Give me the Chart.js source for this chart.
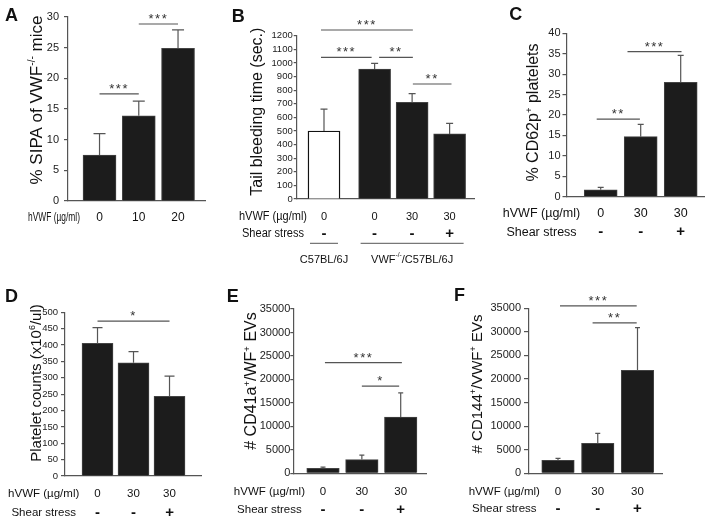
<!DOCTYPE html>
<html>
<head>
<meta charset="utf-8">
<script src="https://cdn.jsdelivr.net/npm/chart.js@4.4.0/dist/chart.umd.min.js"></script>
<style>
  body { margin: 0; background: #fff; width: 705px; height: 519px; position: relative; overflow: hidden; }
  canvas { position: absolute; left: 0; top: 0; }
</style>
</head>
<body>
<canvas id="panelA" width="705" height="519"></canvas>
<canvas id="panelB" width="705" height="519"></canvas>
<canvas id="panelC" width="705" height="519"></canvas>
<canvas id="panelD" width="705" height="519"></canvas>
<canvas id="panelE" width="705" height="519"></canvas>
<canvas id="panelF" width="705" height="519"></canvas>
<script>
// A - SIPA
const sipaDose = ['0', '10', '20'];
const sipaMean = [7.5, 13.9, 24.9];
const sipaErr = [3.5, 2.4, 3.0];
const sipaTicks = [0, 5, 10, 15, 20, 25, 30];
const sipaSig = [[0, 1, 17.45, '***'], [1, 2, 28.86, '***']];

// B - tail bleeding
const bleedDose = ['0', '0', '30', '30'];
const bleedShear = ['-', '-', '-', '+'];
const bleedPos = [0, 1.35, 2.35, 3.35];
const bleedMean = [500, 955, 710, 478];
const bleedErr = [160, 42, 64, 78];
const bleedTicks = [0, 100, 200, 300, 400, 500, 600, 700, 800, 900, 1000, 1100, 1200];
const bleedSig = [[-0.08, 1.27, 1041, '***'], [1.47, 2.37, 1041, '**'], [-0.08, 2.37, 1242, '***'], [2.37, 3.4, 845, '**']];
const bleedGroups = [{ label: 'C57BL/6J', from: 0, to: 0 }, { label: 'VWF^{-/-}/C57BL/6J', from: 1, to: 3 }];

// C-F share the same treatment rows
const treatDose = ['0', '30', '30'];
const treatShear = ['-', '-', '+'];

// C - CD62p
const cd62Mean = [1.7, 14.7, 28.0];
const cd62Err = [0.6, 3.0, 6.6];
const cd62Ticks = [0, 5, 10, 15, 20, 25, 30, 35, 40];
const cd62Sig = [[-0.1, 0.98, 19.0, '**'], [0.67, 2.02, 35.5, '***']];

// D - platelet counts
const pltMean = [405, 346, 243];
const pltErr = [48, 34, 62];
const pltTicks = [0, 50, 100, 150, 200, 250, 300, 350, 400, 450, 500];
const pltSig = [[0, 2, 473, '*']];

// E / F - EVs
const evTicks = [0, 5000, 10000, 15000, 20000, 25000, 30000, 35000];
const cd41Mean = [1050, 2930, 12000];
const cd41Err = [250, 930, 5150];
const cd41Sig = [[0.05, 2.03, 23570, '***'], [1.0, 1.96, 18570, '*']];
const cd144Mean = [2760, 6360, 21850];
const cd144Err = [420, 2130, 9050];
const cd144Sig = [[0.05, 1.98, 35500, '***'], [0.87, 1.98, 31900, '**']];

const FAMILY = "'Liberation Sans', Arial, sans-serif";
const W = 705, H = 519, YW = 45;
const ink = '#1c1c1c';
const axisGray = '#555';
const HVWF = 'hVWF (µg/ml)';
const SHEAR = 'Shear stress';

Chart.defaults.font.family = FAMILY;

// "VWF^{-/-}" -> normal + superscript pieces
function richParts(str) {
  const parts = [];
  const re = /\^\{([^}]*)\}/g;
  let last = 0, m;
  while ((m = re.exec(str))) {
    if (m.index > last) parts.push({ t: str.slice(last, m.index), sup: false });
    parts.push({ t: m[1], sup: true });
    last = re.lastIndex;
  }
  if (last < str.length) parts.push({ t: str.slice(last), sup: false });
  return parts;
}

function drawRich(ctx, str, x, y, size) {
  const parts = richParts(str);
  const fontFor = p => `${p.sup ? size * 0.6 : size}px ${FAMILY}`;
  let total = 0;
  parts.forEach(p => { ctx.font = fontFor(p); p.w = ctx.measureText(p.t).width; total += p.w; });
  let cx = x - total / 2;
  ctx.textAlign = 'left';
  parts.forEach(p => {
    ctx.font = fontFor(p);
    ctx.fillText(p.t, cx, p.sup ? y - size * 0.4 : y);
    cx += p.w;
  });
}

function decorPlugin(p) {
  return {
    id: 'decor' + p.letter,
    afterDatasetsDraw(chart) {
      // error bars, upper half only
      const { ctx, scales: { y } } = chart;
      ctx.save();
      ctx.strokeStyle = axisGray;
      ctx.lineWidth = 1.2;
      chart.getDatasetMeta(0).data.forEach((bar, i) => {
        const top = y.getPixelForValue(p.mean[i] + p.err[i]);
        ctx.beginPath();
        ctx.moveTo(bar.x, bar.y);
        ctx.lineTo(bar.x, top);
        ctx.moveTo(bar.x - p.cap / 2, top);
        ctx.lineTo(bar.x + p.cap / 2, top);
        ctx.stroke();
      });
      ctx.restore();
    },
    afterDraw(chart) {
      const { ctx, chartArea, scales: { x, y } } = chart;
      ctx.save();
      ctx.fillStyle = '#111';
      ctx.font = `bold 18px ${FAMILY}`;
      ctx.textAlign = 'left';
      ctx.textBaseline = 'alphabetic';
      ctx.fillText(p.letter, p.letterAt[0], p.letterAt[1]);

      // y title, rotated
      ctx.save();
      ctx.translate(p.titleAt[0], p.titleAt[1]);
      ctx.rotate(-Math.PI / 2);
      drawRich(ctx, p.title, 0, 0, p.titleSize);
      ctx.restore();

      // significance lines
      ctx.strokeStyle = axisGray;
      ctx.lineWidth = 1.2;
      p.sig.forEach(([from, to, level, stars]) => {
        const yy = y.getPixelForValue(level);
        const x0 = x.getPixelForValue(from), x1 = x.getPixelForValue(to);
        ctx.beginPath();
        ctx.moveTo(x0, yy);
        ctx.lineTo(x1, yy);
        ctx.stroke();
        ctx.font = `13px ${FAMILY}`;
        ctx.letterSpacing = '1.5px';
        ctx.fillStyle = '#333';
        ctx.textAlign = 'center';
        ctx.fillText(stars, (x0 + x1) / 2, yy - 1);
        ctx.letterSpacing = '0px';
      });

      // rows under the x axis
      ctx.textBaseline = 'middle';
      ctx.fillStyle = '#111';
      p.rows.forEach(row => {
        const ry = chartArea.bottom + row.dy;
        ctx.textAlign = 'center';
        ctx.font = `${p.rowSize}px ${FAMILY}`;
        if (row.headW) ctx.fillText(row.head, p.headX, ry, row.headW);
        else ctx.fillText(row.head, p.headX, ry);
        ctx.font = row.bold ? `bold 15px ${FAMILY}` : `${p.valSize || p.rowSize}px ${FAMILY}`;
        row.vals.forEach((v, i) => ctx.fillText(v, x.getPixelForValue(p.pos[i]), ry));
      });

      // strain groups (B)
      (p.groups || []).forEach(g => {
        const gy = chartArea.bottom + 44.3;
        const gx0 = x.getPixelForValue(p.pos[g.from]) - 14;
        const gx1 = x.getPixelForValue(p.pos[g.to]) + 14;
        ctx.strokeStyle = axisGray;
        ctx.lineWidth = 1;
        ctx.beginPath();
        ctx.moveTo(gx0, gy);
        ctx.lineTo(gx1, gy);
        ctx.stroke();
        ctx.fillStyle = '#111';
        drawRich(ctx, g.label, (gx0 + gx1) / 2, gy + 16.7, 11);
      });
      ctx.restore();
    }
  };
}

function buildPanel(p) {
  const fills = p.fills || p.mean.map(() => ink);
  new Chart(document.getElementById(p.id), {
    type: 'bar',
    data: {
      datasets: [{
        data: p.mean.map((v, i) => ({ x: p.pos[i], y: v })),
        backgroundColor: fills,
        borderColor: fills.map(c => c === '#ffffff' ? '#111' : '#444'),
        borderWidth: fills.map(c => c === '#ffffff' ? 1.4 : 1),
        barThickness: p.barW
      }]
    },
    options: {
      responsive: false,
      animation: false,
      events: [],
      layout: { padding: { left: p.area[0] - YW, top: p.area[1], right: W - p.area[2], bottom: H - p.area[3] } },
      plugins: { legend: { display: false }, tooltip: { enabled: false } },
      scales: {
        x: {
          type: 'linear', offset: false,
          min: p.xRange[0], max: p.xRange[1],
          ticks: { display: false },
          grid: { display: false },
          border: { color: axisGray, width: 1.2 },
          afterFit: s => { s.height = 0; }
        },
        y: {
          min: 0, max: p.ticks[p.ticks.length - 1],
          afterBuildTicks: s => { s.ticks = p.ticks.map(v => ({ value: v })); },
          afterFit: s => { s.width = YW; },
          ticks: {
            font: { size: p.tickSize }, padding: p.tickPad, color: '#222',
            autoSkip: false, callback: v => String(v)
          },
          grid: { drawOnChartArea: false, tickLength: p.tickLen, color: axisGray, lineWidth: 1.2 },
          border: { color: axisGray, width: 1.2 }
        }
      }
    },
    plugins: [decorPlugin(p)]
  });
}

const panels = [
  {
    id: 'panelA', letter: 'A', letterAt: [5, 21],
    area: [68, 17, 205, 201], xRange: [-0.803, 2.687],
    pos: [0, 1, 2], mean: sipaMean, err: sipaErr, ticks: sipaTicks, sig: sipaSig,
    barW: 33, cap: 12, tickSize: 11, tickLen: 4, tickPad: 5,
    title: '% SIPA of VWF^{-/-} mice', titleAt: [41.7, 100], titleSize: 17,
    headX: 54, rowSize: 12,
    rows: [{ head: HVWF, vals: sipaDose, dy: 17, headW: 52 }]
  },
  {
    id: 'panelB', letter: 'B', letterAt: [231.7, 21.7],
    area: [296.7, 35.7, 475, 199], xRange: [-0.728, 4.027],
    pos: bleedPos, mean: bleedMean, err: bleedErr, ticks: bleedTicks, sig: bleedSig,
    fills: ['#ffffff', ink, ink, ink], groups: bleedGroups,
    barW: 32, cap: 7, tickSize: 9.5, tickLen: 3, tickPad: 1,
    title: 'Tail bleeding time (sec.)', titleAt: [261.7, 111.7], titleSize: 16,
    headX: 273, rowSize: 12, valSize: 11,
    rows: [
      { head: HVWF, vals: bleedDose, dy: 17.7, headW: 68 },
      { head: SHEAR, vals: bleedShear, dy: 35, headW: 62, bold: true }
    ]
  },
  {
    id: 'panelC', letter: 'C', letterAt: [509.3, 20],
    area: [566.5, 33.3, 704, 196.7], xRange: [-0.855, 2.5825],
    pos: [0, 1, 2], mean: cd62Mean, err: cd62Err, ticks: cd62Ticks, sig: cd62Sig,
    barW: 33, cap: 6, tickSize: 11, tickLen: 4, tickPad: 2,
    title: '% CD62p^{+} platelets', titleAt: [538.3, 112.5], titleSize: 16,
    headX: 541.5, rowSize: 12.5,
    rows: [
      { head: HVWF, vals: treatDose, dy: 16.6 },
      { head: SHEAR, vals: treatShear, dy: 35.6, bold: true }
    ]
  },
  {
    id: 'panelD', letter: 'D', letterAt: [5, 301.7],
    area: [65, 312.3, 201.7, 476], xRange: [-0.903, 2.894],
    pos: [0, 1, 2], mean: pltMean, err: pltErr, ticks: pltTicks, sig: pltSig,
    barW: 31, cap: 10, tickSize: 9.5, tickLen: 4, tickPad: 3,
    title: 'Platelet counts (x10^{6}/ul)', titleAt: [40.5, 383], titleSize: 15,
    headX: 43.7, rowSize: 11.5,
    rows: [
      { head: HVWF, vals: treatDose, dy: 18 },
      { head: SHEAR, vals: treatShear, dy: 37.3, bold: true }
    ]
  },
  {
    id: 'panelE', letter: 'E', letterAt: [226.7, 301.7],
    area: [293.3, 309, 426.7, 473.3], xRange: [-0.7645, 2.669],
    pos: [0, 1, 2], mean: cd41Mean, err: cd41Err, ticks: evTicks, sig: cd41Sig,
    barW: 32.5, cap: 5, tickSize: 11, tickLen: 3, tickPad: 0,
    title: '# CD41a^{+}/WF^{+} EVs', titleAt: [256, 381], titleSize: 16,
    headX: 269.4, rowSize: 11.5,
    rows: [
      { head: HVWF, vals: treatDose, dy: 19 },
      { head: SHEAR, vals: treatShear, dy: 37, bold: true }
    ]
  },
  {
    id: 'panelF', letter: 'F', letterAt: [454, 301],
    area: [529, 308.3, 662.7, 473.3], xRange: [-0.7296, 2.634],
    pos: [0, 1, 2], mean: cd144Mean, err: cd144Err, ticks: evTicks, sig: cd144Sig,
    barW: 32.5, cap: 5, tickSize: 11, tickLen: 5, tickPad: 3,
    title: '# CD144^{+}/VWF^{+} EVs', titleAt: [481.7, 384], titleSize: 15,
    headX: 504.3, rowSize: 11.5,
    rows: [
      { head: HVWF, vals: treatDose, dy: 18.4 },
      { head: SHEAR, vals: treatShear, dy: 36, bold: true }
    ]
  }
];

panels.forEach(buildPanel);
</script>
</body>
</html>
